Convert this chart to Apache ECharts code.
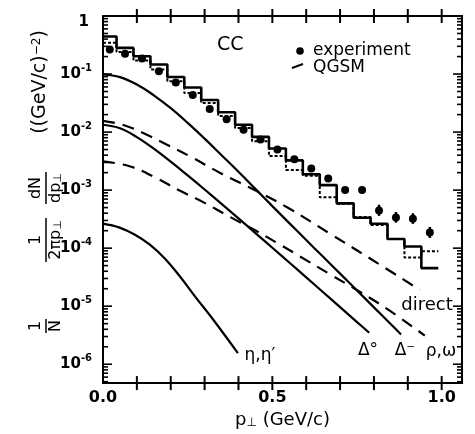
<!DOCTYPE html>
<html><head><meta charset="utf-8">
<script src="https://cdn.jsdelivr.net/npm/echarts@6/dist/echarts.min.js"></script>
<style>html,body{margin:0;padding:0;background:#fff}#c{width:475px;height:434px}</style>
</head><body><div id="c"></div>
<script>
// ---------- data ----------
const binEdges = [0, 0.04, 0.09, 0.14, 0.19, 0.24, 0.29, 0.34, 0.39, 0.44, 0.49, 0.54, 0.59, 0.64, 0.69, 0.74, 0.79, 0.84, 0.89, 0.94, 0.99];
const qgsmSolid = [0.444, 0.282, 0.203, 0.146, 0.0889, 0.0586, 0.0356, 0.0220, 0.0134, 0.00826, 0.00521, 0.00326, 0.00188, 0.00122, 0.000591, 0.000335, 0.000264, 0.000144, 0.000107, 0.0000453];
const qgsmDashed = [0.347, 0.239, 0.171, 0.120, 0.0751, 0.0469, 0.0317, 0.0190, 0.0117, 0.00695, 0.00386, 0.00223, 0.00176, 0.000754, 0.000580, 0.000344, 0.000251, 0.000144, 0.0000689, 0.0000882];

const expX = [0.02, 0.065, 0.115, 0.165, 0.215, 0.265, 0.315, 0.365, 0.415, 0.465, 0.515, 0.565, 0.615, 0.665, 0.715, 0.765, 0.815, 0.865, 0.915, 0.965];
const expY = [0.264, 0.223, 0.185, 0.112, 0.0713, 0.0434, 0.0251, 0.0167, 0.0110, 0.00743, 0.00501, 0.00339, 0.00235, 0.00159, 0.00100, 0.00100, 0.000446, 0.000339, 0.000322, 0.000186];
const errX = [0.815, 0.865, 0.915, 0.965];
const errLow = [0.000360, 0.000275, 0.000262, 0.000150];
const errHigh = [0.000560, 0.000420, 0.000400, 0.000232];

const deltaMinusX = [0, 0.05, 0.1, 0.15, 0.2, 0.25, 0.3, 0.35, 0.4, 0.45, 0.5, 0.55, 0.6, 0.65, 0.7, 0.75, 0.8, 0.85, 0.88];
const deltaMinusY = [0.0989, 0.0885, 0.0660, 0.0430, 0.0258, 0.0144, 0.0077, 0.0040, 0.00207, 0.00105, 0.000530, 0.000270, 0.000138, 7.10e-5, 3.64e-5, 1.87e-5, 9.55e-6, 4.89e-6, 3.26e-6];
const delta0X = [0, 0.05, 0.1, 0.15, 0.2, 0.25, 0.3, 0.35, 0.4, 0.45, 0.5, 0.55, 0.6, 0.65, 0.7, 0.75, 0.786];
const delta0Y = [0.01337, 0.01164, 0.00820, 0.00518, 0.00309, 0.00179, 0.001025, 0.00058, 0.000326, 0.000182, 0.0001016, 5.65e-5, 3.14e-5, 1.74e-5, 9.64e-6, 5.33e-6, 3.48e-6];
const directX = [0, 0.0576, 0.1167, 0.1876, 0.2556, 0.3531, 0.4536, 0.5511, 0.6693, 0.7875, 0.9353];
const directY = [0.01563, 0.01337, 0.00977, 0.0061, 0.00385, 0.00188, 0.000966, 0.000477, 0.000179, 6.7e-5, 1.91e-5];
const rhoX = [0, 0.0783, 0.1522, 0.2261, 0.2999, 0.3738, 0.4477, 0.5216, 0.5807, 0.6693, 0.7580, 0.8466, 0.9501];
const rhoY = [0.00313, 0.00258, 0.00167, 0.000984, 0.000603, 0.000348, 0.000205, 0.000116, 7.25e-5, 3.58e-5, 1.77e-5, 8.38e-6, 3.11e-6];
const etaX = [0, 0.0488, 0.0931, 0.1374, 0.1817, 0.2261, 0.2704, 0.3295, 0.3983];
const etaY = [2.64e-4, 2.26e-4, 1.72e-4, 1.16e-4, 6.70e-5, 3.31e-5, 1.51e-5, 5.45e-6, 1.55e-6];

const xTicks = [0.1, 0.2, 0.3, 0.4, 0.5, 0.6, 0.7, 0.8, 0.9, 1.0];
const xTickLabels = {'0.0': '0.0', '0.5': '0.5', '1.0': '1.0'};
const yTickExp = [0, -1, -2, -3, -4, -5, -6];
const yTickText = ['1', '{b|10}{s|-1}', '{b|10}{s|-2}', '{b|10}{s|-3}', '{b|10}{s|-4}', '{b|10}{s|-5}', '{b|10}{s|-6}'];
const minorMantissa = [2, 3, 4, 5, 6, 7, 8, 9];

// ---------- build ----------
const FONT = 'DejaVu Sans';
const Y_MIN = 4.73e-7, Y_MAX = 1, X_MAX = 1.06;

function stepData(vals) {
  const d = vals.map((v, i) => [binEdges[i], v]);
  d.push([binEdges[vals.length], vals[vals.length - 1]]);
  return d;
}
function zip(xs, ys) { return xs.map((x, i) => [x, ys[i]]); }

const yTickData = [];
yTickExp.forEach(e => yTickData.push([0, Math.pow(10, e), 1]));
for (let e = -7; e < 0; e++) {
  minorMantissa.forEach(m => {
    const v = m * Math.pow(10, e);
    if (v > Y_MIN && v < Y_MAX) yTickData.push([0, v, 0]);
  });
}
const yLabelData = yTickExp.map((e, i) => [0, Math.pow(10, e), i]);

const chart = echarts.init(document.getElementById('c'));

function curve(name, xs, ys, dashed) {
  return {
    name, type: 'line', data: zip(xs, ys), symbol: 'none', smooth: 0.4,
    lineStyle: { color: '#000', width: 2.2, type: dashed ? [12, 8] : 'solid' }, z: 3
  };
}

const subRich = {
  b: { fontSize: 15, fontWeight: 'bold', fontFamily: FONT, lineHeight: 22, fill: '#000' },
  s: { fontSize: 10, fontWeight: 'bold', fontFamily: FONT, lineHeight: 11, verticalAlign: 'top', fill: '#000' }
};

const fracFont = '16px ' + FONT;
function frac(cx, num, den, barLen) {
  return [
    { type: 'text', x: cx, y: -2, style: { text: num, font: fracFont, fill: '#000', align: 'center', verticalAlign: 'bottom' } },
    { type: 'line', shape: { x1: cx - barLen / 2, y1: 0, x2: cx + barLen / 2, y2: 0 }, style: { stroke: '#000', lineWidth: 1.5 } },
    { type: 'text', x: cx, y: 2, style: { text: den, font: fracFont, fill: '#000', align: 'center', verticalAlign: 'top',
      rich: { n: { fontSize: 16, fontFamily: FONT }, u: { fontSize: 11, fontFamily: FONT, verticalAlign: 'bottom' } } } }
  ];
}

const option = {
  animation: false,
  backgroundColor: '#fff',
  grid: { left: 103, right: 13, top: 16, bottom: 48, show: true, borderColor: '#000', borderWidth: 2, backgroundColor: 'transparent' },
  xAxis: {
    type: 'value', min: 0, max: X_MAX, interval: 0.1, position: 'bottom',
    axisLine: { show: false }, axisTick: { show: false }, splitLine: { show: false },
    axisLabel: {
      margin: 7, color: '#000', fontSize: 16, fontWeight: 'bold', fontFamily: FONT,
      formatter: v => Math.abs(v * 2 - Math.round(v * 2)) < 1e-6 ? (xTickLabels[v.toFixed(1)] || '') : ''
    },
    name: '{p|p}{u|⊥} (GeV/c)', nameLocation: 'middle', nameGap: 18,
    nameTextStyle: { color: '#000', fontSize: 18, fontFamily: FONT,
      rich: { p: { fontSize: 18, fontFamily: FONT }, u: { fontSize: 12, fontFamily: FONT, verticalAlign: 'bottom' } } }
  },
  yAxis: {
    type: 'log', logBase: 10, min: Y_MIN, max: Y_MAX,
    axisLine: { show: false }, axisTick: { show: false }, axisLabel: { show: false }, splitLine: { show: false }
  },
  series: [
    { name: 'QGSM total', type: 'line', step: 'end', data: stepData(qgsmSolid), symbol: 'none',
      lineStyle: { color: '#000', width: 2.6 }, z: 4 },
    { name: 'QGSM', type: 'line', step: 'end', data: stepData(qgsmDashed), symbol: 'none',
      lineStyle: { color: '#000', width: 2, type: [3, 2] }, z: 4 },
    curve('Δ⁻', deltaMinusX, deltaMinusY, false),
    curve('Δ⁰', delta0X, delta0Y, false),
    curve('direct', directX, directY, true),
    curve('ρ,ω', rhoX, rhoY, true),
    curve('η,η′', etaX, etaY, false),
    { name: 'experiment', type: 'scatter', data: zip(expX, expY), symbol: 'circle', symbolSize: 8,
      itemStyle: { color: '#000', opacity: 1 }, z: 6 },
    { name: 'errors', type: 'custom', z: 6,
      data: errX.map((x, i) => [x, errLow[i], errHigh[i]]),
      encode: { x: 0, y: [1, 2] },
      renderItem: (params, api) => {
        const p1 = api.coord([api.value(0), api.value(1)]);
        const p2 = api.coord([api.value(0), api.value(2)]);
        return { type: 'line', shape: { x1: p1[0], y1: p1[1], x2: p2[0], y2: p2[1] }, style: { stroke: '#000', lineWidth: 2.5 } };
      } },
    { name: 'xTicksBottom', type: 'scatter', data: xTicks.map(x => [x, Y_MIN]), symbol: 'rect', symbolSize: [2, 14],
      itemStyle: { color: '#000', opacity: 1 }, z: 7, silent: true, clip: true },
    { name: 'xTicksTop', type: 'scatter', data: xTicks.map(x => [x, Y_MAX]), symbol: 'rect', symbolSize: [2, 14],
      itemStyle: { color: '#000', opacity: 1 }, z: 7, silent: true, clip: true },
    { name: 'yTicks', type: 'custom', z: 5, data: yTickData, encode: { x: 0, y: 1 },
      renderItem: (params, api) => {
        const cs = params.coordSys;
        const y = api.coord([0, api.value(1)])[1];
        const len = api.value(2) === 1 ? 9 : 5;
        return { type: 'group', children: [
          { type: 'line', shape: { x1: cs.x, y1: y, x2: cs.x + len, y2: y }, style: { stroke: '#000', lineWidth: 1.6 } },
          { type: 'line', shape: { x1: cs.x + cs.width - len, y1: y, x2: cs.x + cs.width, y2: y }, style: { stroke: '#000', lineWidth: 1.6 } }
        ] };
      } },
    { name: 'yLabels', type: 'custom', z: 5, data: yLabelData, encode: { x: 0, y: 1 },
      renderItem: (params, api) => {
        const cs = params.coordSys;
        const i = api.value(2);
        let y = api.coord([0, api.value(1)])[1];
        const txt = yTickText[i];
        if (i === 0) y += 6;
        return { type: 'text', x: cs.x - (i === 0 ? 14 : 11), y: y,
          style: { text: txt, rich: subRich, align: 'right', verticalAlign: 'middle', fill: '#000',
            font: 'bold 15px ' + FONT } };
      } }
  ],
  graphic: [
    { type: 'text', left: 217, top: 36, style: { text: 'CC', font: '19px ' + FONT, fill: '#000' } },
    { type: 'circle', shape: { cx: 300, cy: 51, r: 3.8 }, style: { fill: '#000' } },
    { type: 'text', x: 313, y: 51, style: { text: 'experiment', font: '17px ' + FONT, fill: '#000', verticalAlign: 'middle' } },
    { type: 'line', shape: { x1: 292, y1: 68, x2: 303, y2: 64 }, style: { stroke: '#000', lineWidth: 2 } },
    { type: 'text', x: 313, y: 68, style: { text: 'QGSM', font: '17px ' + FONT, fill: '#000', verticalAlign: 'middle' } },
    { type: 'text', x: 427, y: 305, style: { text: 'direct', font: '18px ' + FONT, fill: '#000', align: 'center', verticalAlign: 'middle' } },
    { type: 'text', x: 260, y: 356, style: { text: 'η,η′', font: '17px ' + FONT, fill: '#000', align: 'center', verticalAlign: 'middle' } },
    { type: 'text', x: 368, y: 351, style: { text: 'Δ°', font: '17px ' + FONT, fill: '#000', align: 'center', verticalAlign: 'middle' } },
    { type: 'text', x: 405, y: 351, style: { text: 'Δ⁻', font: '17px ' + FONT, fill: '#000', align: 'center', verticalAlign: 'middle' } },
    { type: 'text', x: 441, y: 352, style: { text: 'ρ,ω', font: '17px ' + FONT, fill: '#000', align: 'center', verticalAlign: 'middle' } },
    { type: 'group', x: 46, y: 345, rotation: Math.PI / 2, children: [].concat(
        frac(19, '1', 'N', 14),
        frac(105, '1', '{n|2πp}{u|⊥}', 44),
        frac(157, 'dN', '{n|dp}{u|⊥}', 32),
        [{ type: 'text', x: 263, y: -6, style: { text: '((GeV/c){s|−2})', font: '19px ' + FONT, fill: '#000', align: 'center', verticalAlign: 'middle',
            rich: { s: { fontSize: 12, fontFamily: FONT, verticalAlign: 'top', lineHeight: 12 } } } }]
      ) }
  ]
};
chart.setOption(option);
</script>
</body></html>
